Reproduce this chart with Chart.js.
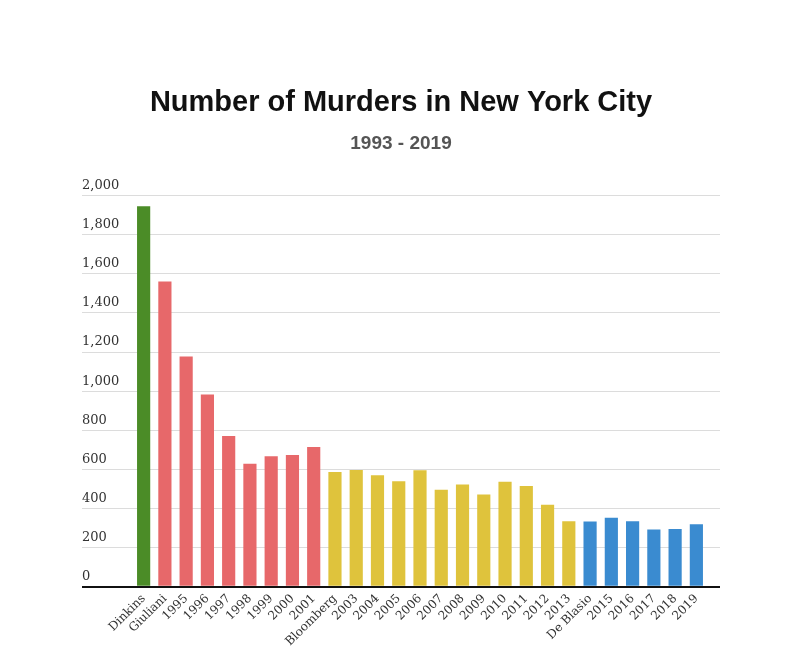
<!DOCTYPE html>
<html>
<head>
<meta charset="utf-8">
<script src="https://cdn.jsdelivr.net/npm/chart.js@4/dist/chart.umd.min.js"></script>
<style>
  html, body { margin: 0; padding: 0; background: #fff; }
  #wrap { width: 800px; height: 669px; position: relative; }
</style>
</head>
<body>
<div id="wrap"><canvas id="myChart"></canvas></div>
<script>
// x labels (first year of each mayor shows the name)
var years = ['Dinkins', 'Giuliani', '1995', '1996', '1997', '1998', '1999', '2000', '2001',
  'Bloomberg', '2003', '2004', '2005', '2006', '2007', '2008', '2009', '2010', '2011', '2012', '2013',
  'De Blasio', '2015', '2016', '2017', '2018', '2019'];

var murders = [1946, 1561, 1177, 983, 770, 629, 667, 673, 714,
  587, 597, 570, 539, 596, 496, 523, 471, 536, 515, 419, 335,
  333, 352, 335, 292, 295, 319];

var mayor = ['Dinkins', 'Giuliani', 'Giuliani', 'Giuliani', 'Giuliani', 'Giuliani', 'Giuliani', 'Giuliani', 'Giuliani',
  'Bloomberg', 'Bloomberg', 'Bloomberg', 'Bloomberg', 'Bloomberg', 'Bloomberg', 'Bloomberg', 'Bloomberg', 'Bloomberg', 'Bloomberg', 'Bloomberg', 'Bloomberg',
  'De Blasio', 'De Blasio', 'De Blasio', 'De Blasio', 'De Blasio', 'De Blasio'];

var yTicks = [0, 200, 400, 600, 800, 1000, 1200, 1400, 1600, 1800, 2000];

var mayorColor = {
  'Dinkins': '#4b8c27',
  'Giuliani': '#e7686a',
  'Bloomberg': '#dfc33c',
  'De Blasio': '#3a8bd0'
};

function gridColor(ctx) {
  return (ctx.tick && ctx.tick.value === 0) ? '#111' : '#dcdcdc';
}
function gridWidth(ctx) {
  return (ctx.tick && ctx.tick.value === 0) ? 2 : 1;
}

var ctx = document.getElementById('myChart').getContext('2d');
var myChart = new Chart(ctx, {
  type: 'bar',
  data: {
    labels: years,
    datasets: [{
      data: murders,
      backgroundColor: mayor.map(function(m){ return mayorColor[m]; }),
      borderWidth: 0,
      categoryPercentage: 1,
      barPercentage: 0.62
    }]
  },
  options: {
    responsive: true,
    maintainAspectRatio: false,
    animation: false,
    layout: { padding: { left: 82, right: 80, top: 0, bottom: 23 } },
    plugins: {
      legend: { display: false },
      tooltip: { enabled: false },
      title: {
        display: true,
        text: 'Number of Murders in New York City',
        color: '#111',
        font: { family: '"Liberation Sans", Arial, sans-serif', size: 29, weight: 'bold', lineHeight: 1.2 },
        padding: { top: 86, bottom: 8 }
      },
      subtitle: {
        display: true,
        text: '1993 - 2019',
        color: '#555',
        font: { family: '"Liberation Sans", Arial, sans-serif', size: 19, weight: 'bold', lineHeight: 1.2 },
        padding: { top: 4, bottom: 40 }
      }
    },
    scales: {
      x: {
        grid: { display: false },
        border: { display: false },
        ticks: {
          color: '#333',
          font: { family: '"DejaVu Serif", serif', size: 12 },
          minRotation: 45,
          maxRotation: 45,
          autoSkip: false,
          padding: -3
        }
      },
      y: {
        min: 0,
        max: 2000,
        afterFit: function(scale){ scale.width = 51; },
        afterBuildTicks: function(scale){ scale.ticks = yTicks.map(function(v){ return { value: v }; }); },
        border: { display: false },
        grid: { color: gridColor, lineWidth: gridWidth, tickLength: 51, drawTicks: true },
        ticks: {
          color: '#333',
          font: { family: '"DejaVu Serif", serif', size: 13 },
          crossAlign: 'far',
          labelOffset: -10,
          padding: -51,
          callback: function(v){ return Number(v).toLocaleString('en-US'); }
        }
      },
      y2: {
        position: 'right',
        min: 0,
        max: 2000,
        afterFit: function(scale){ scale.width = 13; },
        afterBuildTicks: function(scale){ scale.ticks = yTicks.map(function(v){ return { value: v }; }); },
        border: { display: false },
        grid: { drawOnChartArea: false, color: gridColor, lineWidth: gridWidth, tickLength: 13 },
        ticks: { display: false }
      }
    }
  }
});
</script>
</body>
</html>
